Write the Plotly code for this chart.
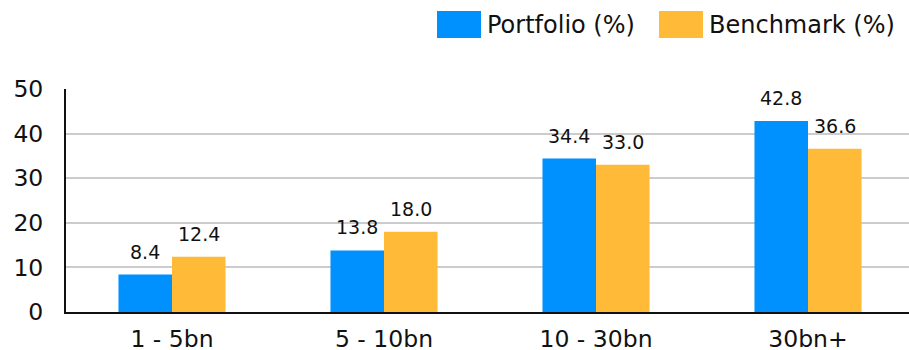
import plotly.graph_objects as go

categories = ["1 - 5bn", "5 - 10bn", "10 - 30bn", "30bn+"]
portfolio = [8.4, 13.8, 34.4, 42.8]
benchmark = [12.4, 18.0, 33.0, 36.6]
series_names = ["Portfolio (%)", "Benchmark (%)"]
y_ticks = [0, 10, 20, 30, 40, 50]

BLUE = "#0091ff"
ORANGE = "#ffbb38"
FONT = "DejaVu Sans"
INK = "#111111"

fig = go.Figure()
fig.add_trace(go.Bar(x=categories, y=portfolio, name=series_names[0],
                     marker=dict(color=BLUE, line=dict(width=0)), showlegend=False))
fig.add_trace(go.Bar(x=categories, y=benchmark, name=series_names[1],
                     marker=dict(color=ORANGE, line=dict(width=0)), showlegend=False))

# value labels above each bar
annotations = []
for vals, shift in ((portfolio, -27), (benchmark, 27)):
    for c, v in zip(categories, vals):
        annotations.append(dict(x=c, y=v, xref="x", yref="y", text=f"{v:.1f}",
                                showarrow=False, xshift=shift, yshift=10,
                                yanchor="bottom", xanchor="center",
                                font=dict(family=FONT, size=19, color=INK)))

# legend: swatches and labels along the top right
shapes = []
legend_items = [(437, 481, BLUE, series_names[0]), (659, 703, ORANGE, series_names[1])]
for x0, x1, col, label in legend_items:
    shapes.append(dict(type="rect", xref="paper", yref="paper",
                       x0=(x0 - 66) / 843, x1=(x1 - 66) / 843,
                       y0=(312 - 38) / 223, y1=(312 - 11) / 223,
                       fillcolor=col, line=dict(width=0), layer="above"))
    annotations.append(dict(x=(x1 + 4 - 66) / 843, y=(312 - 25) / 223,
                            xref="paper", yref="paper", text=label, showarrow=False,
                            xanchor="left", yanchor="middle",
                            font=dict(family=FONT, size=24, color=INK)))

fig.update_layout(
    width=909, height=350,
    margin=dict(l=66, r=0, t=89, b=38, autoexpand=False),
    paper_bgcolor="white", plot_bgcolor="white",
    barmode="group", bargap=0.495, bargroupgap=0,
    font=dict(family=FONT, size=23.5, color=INK),
    annotations=annotations, shapes=shapes,
    xaxis=dict(range=[-0.5, -0.5 + 843 / 212], showline=True, linecolor=INK,
               linewidth=2, ticks="", tickfont=dict(size=23.5), ticklabelstandoff=5,
               showgrid=False, zeroline=False, automargin=False),
    yaxis=dict(range=[0, 50], tickvals=y_ticks, showline=True, linecolor=INK,
               linewidth=2, gridcolor="#cccccc", gridwidth=2, zeroline=False,
               ticks="", tickfont=dict(size=23.5), ticklabelstandoff=16,
               automargin=False),
)

fig.write_html("out.html")
